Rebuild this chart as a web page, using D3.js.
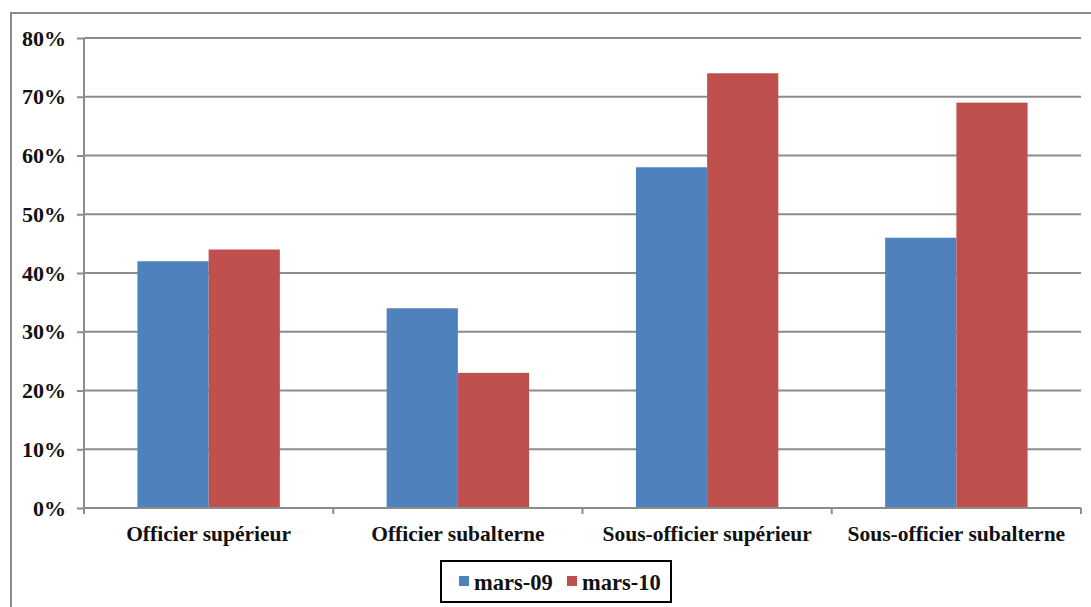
<!DOCTYPE html>
<html>
<head>
<meta charset="utf-8">
<script src="https://cdn.jsdelivr.net/npm/d3@7"></script>
<style>
  html, body { margin: 0; padding: 0; background: #fff; }
  svg { display: block; }
  text { font-family: "Liberation Serif", "Times New Roman", serif; font-weight: bold; fill: #111; }
</style>
</head>
<body>
<svg id="chart" width="1091" height="607"></svg>
<script>
// Share of personnel by rank group, March 2009 vs March 2010
const categories = ["Officier supérieur", "Officier subalterne", "Sous-officier supérieur", "Sous-officier subalterne"];
const seriesNames = ["mars-09", "mars-10"];
const mars09 = [42, 34, 58, 46];
const mars10 = [44, 23, 74, 69];
const yTicks = [0, 10, 20, 30, 40, 50, 60, 70, 80];
const seriesColors = ["#4F81BD", "#C0504D"];

const svg = d3.select("#chart");
const plotLeft = 84, plotRight = 1081, plotTop = 38, plotBottom = 508;

// outer chart frame
svg.append("rect")
  .attr("x", 11).attr("y", 13)
  .attr("width", 1100).attr("height", 620)
  .attr("fill", "none").attr("stroke", "#8a8a8a").attr("stroke-width", 2);

const x = d3.scaleBand().domain(categories).range([plotLeft, plotRight]).paddingInner(0).paddingOuter(0);
const y = d3.scaleLinear().domain([0, 80]).range([plotBottom, plotTop]);
// two bars per group, gap of 150% of a bar width
const barW = x.bandwidth() / (2 + 1.5);
const xs = d3.scaleBand().domain(seriesNames).range([0, 2 * barW]);

// horizontal gridlines
svg.append("g").selectAll("line").data(yTicks.filter(t => t > 0)).join("line")
  .attr("x1", plotLeft).attr("x2", plotRight)
  .attr("y1", d => y(d)).attr("y2", d => y(d))
  .attr("stroke", "#8c8c8c").attr("stroke-width", 2);

// y axis
const yAxis = svg.append("g").attr("transform", `translate(${plotLeft},0)`)
  .call(d3.axisLeft(y).tickValues(yTicks).tickFormat(d => d + "%").tickSize(7).tickPadding(11));
yAxis.select(".domain").attr("stroke", "#8c8c8c").attr("stroke-width", 2).attr("d", `M0,${plotTop}V${plotBottom}`);
yAxis.selectAll(".tick line").attr("stroke", "#8c8c8c").attr("stroke-width", 2);
yAxis.selectAll(".tick text").attr("font-size", 22).attr("font-family", null).attr("fill", "#111");

// bars
const rows = categories.map((c, i) => ({ cat: c, vals: [mars09[i], mars10[i]] }));
const groups = svg.append("g").selectAll("g").data(rows).join("g")
  .attr("transform", d => `translate(${x(d.cat) + (x.bandwidth() - 2 * barW) / 2},0)`);
groups.selectAll("rect").data(d => d.vals.map((v, j) => ({ v, s: seriesNames[j], j }))).join("rect")
  .attr("x", d => xs(d.s)).attr("width", xs.bandwidth())
  .attr("y", d => y(d.v)).attr("height", d => y(0) - y(d.v))
  .attr("fill", d => seriesColors[d.j]);

// x axis with ticks on category boundaries
const xAxis = svg.append("g").attr("transform", `translate(0,${plotBottom})`);
xAxis.append("line").attr("x1", plotLeft).attr("x2", plotRight).attr("y1", 0).attr("y2", 0)
  .attr("stroke", "#8c8c8c").attr("stroke-width", 2);
xAxis.selectAll("line.tk").data(categories.map(c => x(c)).concat([plotRight])).join("line")
  .attr("class", "tk")
  .attr("x1", d => d).attr("x2", d => d).attr("y1", 0).attr("y2", 6)
  .attr("stroke", "#8c8c8c").attr("stroke-width", 2);
xAxis.selectAll("text").data(categories).join("text")
  .attr("x", d => x(d) + x.bandwidth() / 2).attr("y", 33)
  .attr("text-anchor", "middle").attr("font-size", 21.5)
  .text(d => d);

// legend
const lg = svg.append("g").attr("transform", "translate(441,561)");
lg.append("rect").attr("width", 230).attr("height", 41)
  .attr("fill", "#fff").attr("stroke", "#000").attr("stroke-width", 2);
const items = lg.selectAll("g").data(seriesNames).join("g")
  .attr("transform", (d, i) => `translate(${[18, 126][i]},0)`);
items.append("rect").attr("y", 15).attr("width", 10).attr("height", 10)
  .attr("fill", (d, i) => seriesColors[i]);
items.append("text").attr("x", 15).attr("y", 29).attr("font-size", 22.5).text(d => d);
</script>
</body>
</html>
